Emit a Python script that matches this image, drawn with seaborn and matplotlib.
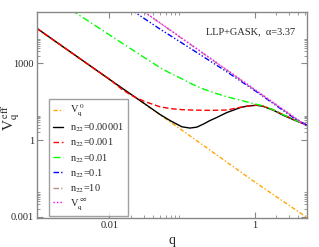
import numpy as np
import pandas as pd
import matplotlib
matplotlib.use("Agg")
import matplotlib.pyplot as plt
import matplotlib.ticker as mticker
import seaborn as sns

# values (q, V_q^eff)
q_v0 = [0.001, 0.01, 0.1, 1.0, 5.2]
v_v0 = [23000, 237, 2.44, 0.023, 0.00095]

q_n1 = [0.001, 0.002, 0.005, 0.01, 0.02, 0.03, 0.05, 0.07, 0.1, 0.129, 0.16, 0.2,
        0.243, 0.3, 0.416, 0.5, 0.628, 0.8, 1.06, 1.3, 1.79, 2.45, 3.5, 5.22]
v_n1 = [24000, 6000, 960, 240, 61, 27.5, 10, 5.6, 3.3, 2.95, 3.2, 4.3,
        5.8, 7.6, 12, 14.5, 18.5, 21.5, 23, 21, 15, 9.5, 6.1, 3.87]

q_n2 = [0.001, 0.002, 0.005, 0.01, 0.015, 0.02, 0.03, 0.05, 0.07, 0.1, 0.14, 0.25,
        0.415, 0.65, 1.06, 1.3, 1.79, 2.45, 3.5, 5.22]
v_n2 = [24000, 6000, 960, 245, 95, 57, 33, 20, 17, 15.5, 14.9, 14.5,
        15, 19.5, 23.4, 21.5, 15.5, 10, 6.3, 3.9]

q_n3 = [0.003, 0.00337, 0.0102, 0.0293, 0.05, 0.0683, 0.1, 0.141, 0.2, 0.3, 0.41,
        0.628, 0.94, 1.3, 1.79, 2.45, 3.5, 5.22]
v_n3 = [125000, 100000, 12700, 1810, 685, 420, 250, 150, 98, 66, 50,
        36.7, 27.3, 22, 15.5, 10, 6.3, 3.9]

q_n4 = [0.02, 0.0226, 0.05, 0.143, 0.41, 1.0, 2.0, 3.5, 5.22]
v_n4 = [125000, 100000, 22000, 3300, 480, 88, 22, 7.2, 3.85]

q_n5 = [0.028, 0.03, 0.1, 0.3, 1.0, 2.0, 3.5, 5.22]
v_n5 = [120000, 104000, 9400, 1040, 93, 23.5, 7.7, 3.5]

q_inf = [0.028, 0.1, 1.0, 5.22]
v_inf = [124000, 9700, 97, 3.56]

labels = ["V$_{\\rm q}^{\\;0}$", "n$_{22}$=0.00001", "n$_{22}$=0.001", "n$_{22}$=0.01",
          "n$_{22}$=0.1", "n$_{22}$=10", "V$_{\\rm q}^{\\;\\infty}$"]

sns.set_style("ticks")
plt.rcParams["font.family"] = ["Liberation Serif", "DejaVu Serif"]
plt.rcParams["mathtext.fontset"] = "stix"

fig = plt.figure(figsize=(3.19, 2.47), dpi=100)
ax = fig.add_axes([0.115, 0.116, 0.848, 0.834])

series = [
    (q_v0, v_v0, "#FFA500", (0, (3, 1.5, 1, 1.5))),
    (q_n1, v_n1, "black", "-"),
    (q_n2, v_n2, "red", (0, (4, 2))),
    (q_n3, v_n3, "#00FF00", (0, (5, 2, 1, 2))),
    (q_n4, v_n4, "blue", (0, (4, 1.5, 1, 1.5, 1, 1.5))),
    (q_n5, v_n5, "#BC8F8F", (0, (4, 1.5, 1, 1.5, 1, 1.5))),
    (q_inf, v_inf, "#FF00FF", (0, (1, 1.5))),
]
for (qq, vv, col, ls), lab in zip(series, labels):
    df = pd.DataFrame({"q": qq, "V": vv})
    sns.lineplot(data=df, x="q", y="V", ax=ax, color=col, linestyle=ls,
                 linewidth=1.0, label=lab)

ax.set_xscale("log")
ax.set_yscale("log")
ax.set_xlim(0.001, 5.3)
ax.set_ylim(0.00086, 1e5)

ax.xaxis.set_major_locator(mticker.FixedLocator([0.01, 1]))
ax.xaxis.set_minor_locator(mticker.FixedLocator([k * 0.01 for k in range(2, 10)] + list(range(2, 10))))
ax.yaxis.set_major_locator(mticker.FixedLocator([0.001, 1, 1000]))
ax.yaxis.set_minor_locator(mticker.FixedLocator([k * 0.001 for k in range(2, 10)] + list(range(2, 10))
                                                + [k * 1000 for k in range(2, 10)]))
ax.xaxis.set_major_formatter(mticker.FuncFormatter(lambda v, p: "%g" % v))
ax.yaxis.set_major_formatter(mticker.FuncFormatter(lambda v, p: "%g" % v))
ax.xaxis.set_minor_formatter(mticker.NullFormatter())
ax.yaxis.set_minor_formatter(mticker.NullFormatter())

ax.tick_params(which="both", direction="in", top=True, right=True, color="#888888",
               labelsize=7.5, pad=2)
ax.tick_params(which="major", length=4, width=0.8)
ax.tick_params(which="minor", length=2, width=0.6)
for s in ax.spines.values():
    s.set_color("#888888")
    s.set_linewidth(1.0)

ax.set_xlabel("q", fontsize=10, labelpad=3)
ax.set_ylabel("V$_{\\rm q}^{\\rm \\,eff}$", fontsize=11)
ax.yaxis.set_label_coords(-0.055, 0.49)

ax.text(0.626, 0.904, "LLP+GASK,  \u03b1=3.37", transform=ax.transAxes, fontsize=7.5,
        ha="left", va="center")

leg = ax.legend(loc="lower left", bbox_to_anchor=(0.045, 0.011), borderaxespad=0,
                fontsize=7.5, frameon=True, fancybox=False, handlelength=1.0,
                handletextpad=0.6, labelspacing=0.25, borderpad=0.4)
leg.get_frame().set_edgecolor("#888888")
leg.get_frame().set_linewidth(1.0)

fig.savefig("out.png", dpi=100)
